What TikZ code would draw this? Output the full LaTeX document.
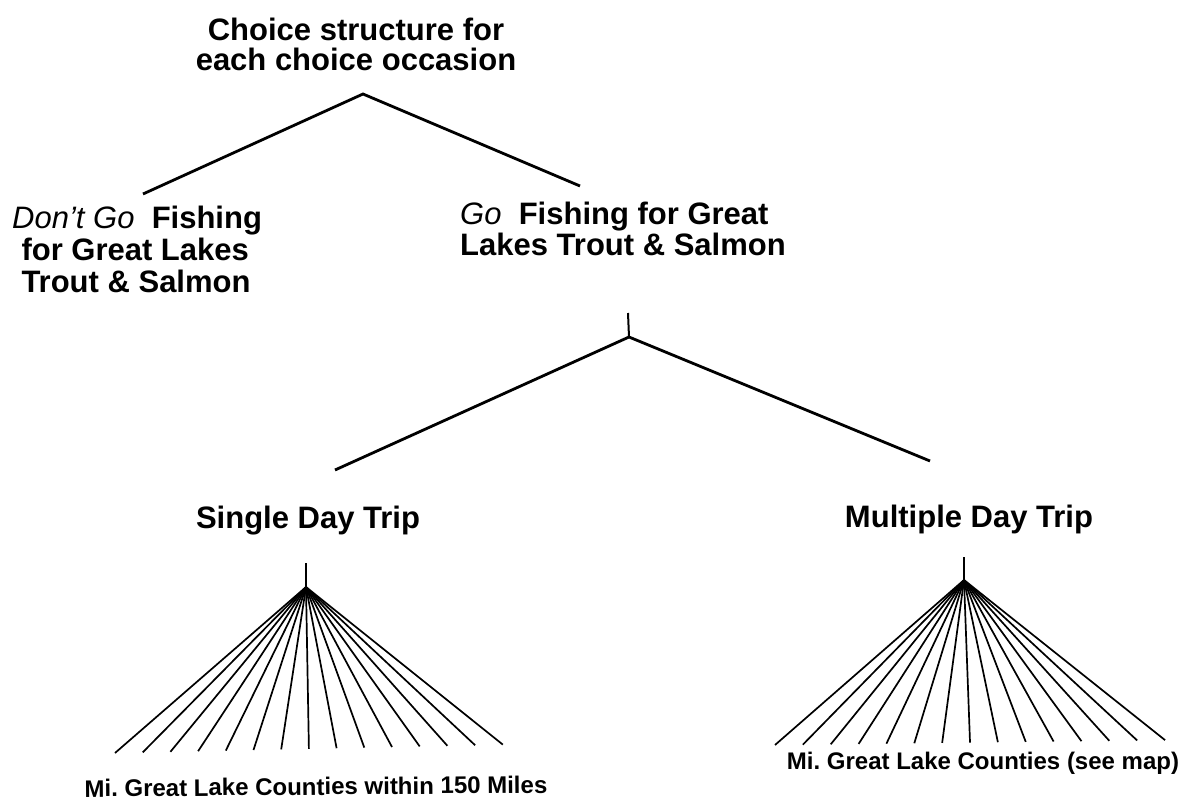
\documentclass[tikz,border=0pt]{standalone}
\usepackage{fontspec}
\setmainfont{Liberation Sans}
\frenchspacing

\begin{document}
\begin{tikzpicture}[x=1pt, y=-1pt,
  lbl/.style={font=\bfseries\fontsize{31}{#1}\selectfont, inner sep=0pt},
  lbl/.default=31,
  county/.style={font=\bfseries\fontsize{24}{24}\selectfont, inner sep=0pt},
  branch/.style={line width=2.8pt},
  spoke/.style={line width=1.7pt},
  stem/.style={line width=2pt}]
\useasboundingbox (0,0) rectangle (1184,811);
% Top: the choice occasion and its two branches
\node[lbl=30, align=center, anchor=base] (occasion) at (356,70) {Choice structure for\\each choice occasion};
\coordinate (top) at (363,94);
\coordinate (nogoend) at (143,194);
\coordinate (goend) at (580,186);
\draw[branch] (nogoend) -- (top) -- (goend);
\node[lbl=32, align=left, anchor=base west] (nogo) at (12,292) {{\mdseries\itshape Don’t Go}\ \ Fishing\\\hspace*{0.3em}for Great Lakes\\\hspace*{0.3em}Trout \& Salmon};
\node[lbl=28, align=left, anchor=base west] (go) at (460,255) {{\mdseries\itshape Go}\ \ Fishing for Great\\Lakes Trout \& Salmon};
% Middle: trip length
\coordinate (gostem) at (628,313);
\coordinate (gofork) at (629,337);
\coordinate (singleend) at (335,470);
\coordinate (multiend) at (930,461);
\draw[stem] (gostem) -- (gofork);
\draw[branch] (singleend) -- (gofork) -- (multiend);
\node[lbl, anchor=base] (single) at (308,528) {Single Day Trip};
\node[lbl, anchor=base] (multi) at (969,527) {Multiple Day Trip};
% Bottom left: single day sites
\coordinate (sstem) at (306,563);
\coordinate (sapex) at (306,587);
\draw[stem] (sstem) -- (sapex);
\foreach \i in {0,...,14} {
  \coordinate (s\i) at ({115+27.7*\i},{753-0.6*\i});
  \draw[spoke] (sapex) -- (s\i);
}
\node[county, anchor=base, rotate=0.5] (scounties) at (316,795) {Mi. Great Lake Counties within 150 Miles};
% Bottom right: multiple day sites
\coordinate (mstem) at (964,557);
\coordinate (mapex) at (964,580);
\draw[stem] (mstem) -- (mapex);
\foreach \i in {0,...,14} {
  \coordinate (m\i) at ({775+27.86*\i},{745-0.35*\i});
  \draw[spoke] (mapex) -- (m\i);
}
\node[county, anchor=base] (mcounties) at (983,769) {Mi. Great Lake Counties (see map)};
\end{tikzpicture}
\end{document}
